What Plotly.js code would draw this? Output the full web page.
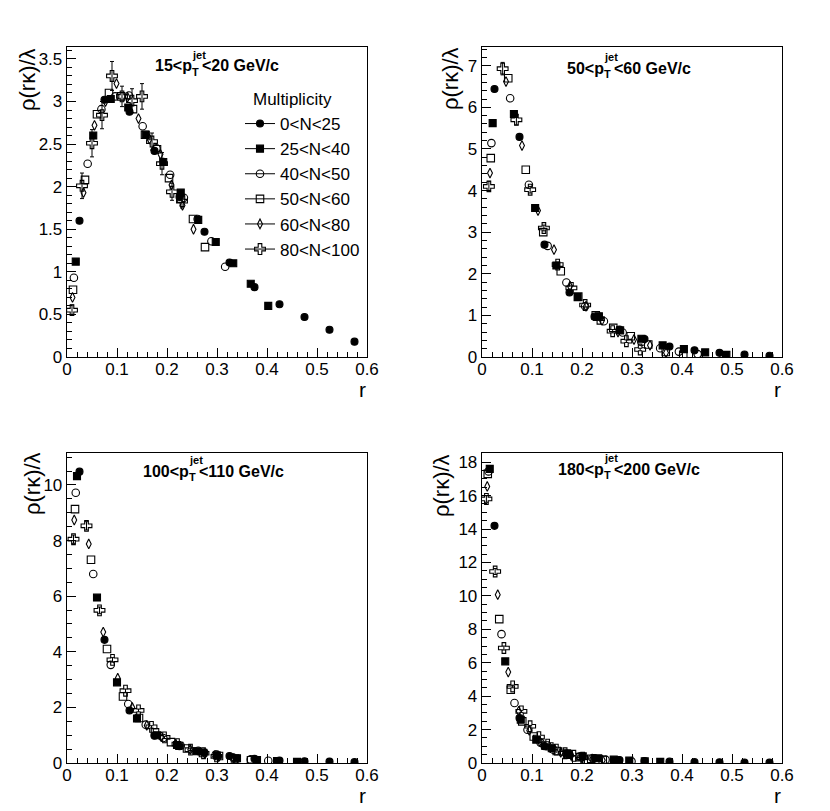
<!DOCTYPE html>
<html>
<head>
<meta charset="utf-8">
<script src="https://cdn.plot.ly/plotly-3.0.1.min.js"></script>
<style>
html,body{margin:0;padding:0;background:#fff;}
#chart{width:830px;height:811px;}
</style>
</head>
<body>
<div id="chart"></div>
<script>
// ---------- DATA ----------
const seriesNames = ['0&lt;N&lt;25','25&lt;N&lt;40','40&lt;N&lt;50','50&lt;N&lt;60','60&lt;N&lt;80','80&lt;N&lt;100'];
const panelLabels = ['15', '20', '50', '60', '100', '110', '180', '200'];

// Panel 1: 15<pT<20
const p1_r0 = [0.025,0.075,0.125,0.175,0.225,0.275,0.325,0.375,0.425,0.475,0.525,0.575];
const p1_y0 = [1.60,3.02,2.88,2.42,1.88,1.47,1.11,0.82,0.62,0.47,0.32,0.18];
const p1_r1 = [0.0175,0.0525,0.0875,0.1225,0.1575,0.1925,0.2275,0.2625,0.2975,0.3325,0.3675,0.4025];
const p1_y1 = [1.12,2.60,3.03,2.93,2.61,2.29,1.93,1.61,1.35,1.10,0.86,0.60];
const p1_r2 = [0.0138,0.0413,0.0688,0.0963,0.1238,0.1513,0.1788,0.2063,0.2338,0.2613,0.2888,0.3163];
const p1_y2 = [0.93,2.27,2.91,3.06,3.07,2.71,2.45,2.14,1.87,1.62,1.36,1.06];
const p1_r3 = [0.012,0.036,0.060,0.084,0.108,0.132,0.156,0.180,0.204,0.228,0.252,0.276];
const p1_y3 = [0.79,2.08,2.85,3.10,3.06,2.91,2.61,2.44,2.10,1.86,1.62,1.29];
const p1_r4 = [0.011,0.033,0.055,0.077,0.099,0.121,0.143,0.165,0.187,0.209,0.231,0.253];
const p1_y4 = [0.70,1.93,2.72,3.00,3.21,3.05,2.80,2.56,2.38,2.02,1.78,1.50];
const p1_r5 = [0.01,0.03,0.05,0.07,0.09,0.11,0.13,0.15,0.17,0.19,0.21,0.23];
const p1_y5 = [0.55,2.01,2.51,2.84,3.30,3.06,3.01,3.06,2.53,2.27,1.94,1.83];
const p1_e5 = [0.06,0.15,0.16,0.16,0.17,0.12,0.14,0.15,0.10,0.13,0.10,0.08];

// Panel 2: 50<pT<60
const p2_r0 = [0.025,0.075,0.125,0.175,0.225,0.275,0.325,0.375,0.425,0.475,0.525,0.575];
const p2_y0 = [6.44,5.29,2.70,1.55,0.97,0.66,0.43,0.25,0.16,0.10,0.06,0.03];
const p2_r1 = [0.0213,0.0638,0.1063,0.1488,0.1913,0.2338,0.2763,0.3188,0.3613,0.4038,0.4463,0.4888];
const p2_y1 = [5.62,5.84,3.58,2.20,1.44,0.98,0.64,0.44,0.28,0.19,0.11,0.05];
const p2_r2 = [0.0188,0.0563,0.0938,0.1313,0.1688,0.2063,0.2438,0.2813,0.3188,0.3563,0.3938,0.4313];
const p2_y2 = [5.14,6.22,4.14,2.67,1.79,1.22,0.86,0.59,0.36,0.21,0.13,0.07];
const p2_r3 = [0.0175,0.0525,0.0875,0.1225,0.1575,0.1925,0.2275,0.2625,0.2975,0.3325,0.3675,0.4025];
const p2_y3 = [4.78,6.70,4.50,3.00,2.06,1.45,1.00,0.70,0.50,0.30,0.12,0.05];
const p2_r4 = [0.016,0.048,0.080,0.112,0.144,0.176,0.208,0.240,0.272,0.304,0.336,0.368];
const p2_y4 = [4.42,6.62,5.08,3.52,2.58,1.70,1.22,0.88,0.60,0.42,0.28,0.10];
const p2_r5 = [0.0138,0.0413,0.0688,0.0963,0.1238,0.1513,0.1788,0.2063,0.2338,0.2613,0.2888,0.3163];
const p2_y5 = [4.10,6.93,5.70,4.02,3.10,2.22,1.66,1.25,0.92,0.62,0.38,0.18];
const p2_e5 = [0.12,0.15,0.12,0.08,0.07,0.06,0.05,0.05,0.04,0.04,0.03,0.03];

// Panel 3: 100<pT<110
const p3_r0 = [0.025,0.075,0.125,0.175,0.225,0.275,0.325,0.375,0.425,0.475,0.525,0.575];
const p3_y0 = [10.48,4.43,1.89,0.98,0.60,0.38,0.25,0.15,0.09,0.06,0.05,0.03];
const p3_r1 = [0.02,0.06,0.10,0.14,0.18,0.22,0.26,0.30,0.34,0.38,0.42,0.46];
const p3_y1 = [10.32,5.95,2.90,1.60,1.00,0.65,0.42,0.27,0.17,0.11,0.07,0.04];
const p3_r2 = [0.0175,0.0525,0.0875,0.1225,0.1575,0.1925,0.2275,0.2625,0.2975,0.3325,0.3675,0.4025];
const p3_y2 = [9.72,6.80,3.53,2.12,1.38,0.90,0.62,0.44,0.30,0.20,0.13,0.08];
const p3_r3 = [0.016,0.048,0.080,0.112,0.144,0.176,0.208,0.240,0.272,0.304,0.336,0.368];
const p3_y3 = [9.13,7.31,4.10,2.39,1.62,1.10,0.75,0.52,0.36,0.25,0.16,0.10];
const p3_r4 = [0.0145,0.0435,0.0725,0.1015,0.1305,0.1595,0.1885,0.2175,0.2465,0.2755,0.3045,0.3335];
const p3_y4 = [8.74,7.88,4.71,3.05,2.00,1.35,0.95,0.68,0.48,0.34,0.24,0.16];
const p3_r5 = [0.013,0.039,0.065,0.091,0.117,0.143,0.169,0.195,0.221,0.247,0.273,0.299];
const p3_y5 = [8.05,8.53,5.49,3.71,2.60,1.89,1.30,0.92,0.68,0.48,0.35,0.24];
const p3_e5 = [0.15,0.15,0.12,0.08,0.06,0.05,0.04,0.04,0.03,0.03,0.02,0.02];

// Panel 4: 180<pT<200
const p4_r0 = [0.025,0.075,0.125,0.175,0.225,0.275,0.325,0.375,0.425,0.475,0.525,0.575];
const p4_y0 = [14.19,2.69,1.00,0.50,0.30,0.18,0.12,0.08,0.05,0.04,0.03,0.02];
const p4_r1 = [0.0155,0.0465,0.0775,0.1085,0.1395,0.1705,0.2015,0.2325,0.2635,0.2945,0.3255,0.3565];
const p4_y1 = [17.60,6.08,2.59,1.40,0.88,0.58,0.40,0.28,0.20,0.14,0.10,0.07];
const p4_r2 = [0.013,0.039,0.065,0.091,0.117,0.143,0.169,0.195,0.221,0.247,0.273,0.299];
const p4_y2 = [17.45,7.71,3.59,1.99,1.22,0.80,0.55,0.39,0.28,0.20,0.15,0.10];
const p4_r3 = [0.0115,0.0345,0.0575,0.0805,0.1035,0.1265,0.1495,0.1725,0.1955,0.2185,0.2415,0.2645];
const p4_y3 = [17.30,8.61,4.38,2.49,1.59,1.05,0.72,0.50,0.35,0.25,0.18,0.12];
const p4_r4 = [0.0105,0.0315,0.0525,0.0735,0.0945,0.1155,0.1365,0.1575,0.1785,0.1995,0.2205,0.2415];
const p4_y4 = [16.55,10.07,5.44,3.10,1.95,1.30,0.90,0.63,0.45,0.33,0.24,0.17];
const p4_r5 = [0.0088,0.0263,0.0438,0.0613,0.0788,0.0963,0.1138,0.1313,0.1488,0.1663,0.1838,0.2013];
const p4_y5 = [15.80,11.46,6.88,4.58,3.09,2.20,1.55,1.10,0.80,0.58,0.43,0.32];
const p4_e5 = [0.20,0.18,0.12,0.08,0.06,0.05,0.04,0.04,0.03,0.03,0.02,0.02];

// ---------- STYLE ----------
const W = 830, H = 811;
const FONT = 'Liberation Sans, Arial, Helvetica, sans-serif';
const symbols = ['circle','square','circle-open','square-open','diamond-tall-open','cross-open'];
const sizes = [7,7,7.5,7.5,7,9];
const px = v => v / W;
const py = v => 1 - v / H;

const panels = [
  {r:[p1_r0,p1_r1,p1_r2,p1_r3,p1_r4,p1_r5], y:[p1_y0,p1_y1,p1_y2,p1_y3,p1_y4,p1_y5], e:p1_e5, xa:'x', ya:'y'},
  {r:[p2_r0,p2_r1,p2_r2,p2_r3,p2_r4,p2_r5], y:[p2_y0,p2_y1,p2_y2,p2_y3,p2_y4,p2_y5], e:p2_e5, xa:'x2', ya:'y2'},
  {r:[p3_r0,p3_r1,p3_r2,p3_r3,p3_r4,p3_r5], y:[p3_y0,p3_y1,p3_y2,p3_y3,p3_y4,p3_y5], e:p3_e5, xa:'x3', ya:'y3'},
  {r:[p4_r0,p4_r1,p4_r2,p4_r3,p4_r4,p4_r5], y:[p4_y0,p4_y1,p4_y2,p4_y3,p4_y4,p4_y5], e:p4_e5, xa:'x4', ya:'y4'}
];

const traces = [];
panels.forEach(p => {
  for (let s = 0; s < 6; s++) {
    const t = {
      type:'scatter', mode:'markers', x:p.r[s], y:p.y[s], xaxis:p.xa, yaxis:p.ya,
      showlegend:false, hoverinfo:'skip',
      marker:{symbol:symbols[s], size:sizes[s], color:'#000', line:{color:'#000', width:1.1}}
    };
    if (s === 5) t.error_y = {type:'data', array:p.e, visible:true, color:'#000', thickness:1, width:2};
    traces.push(t);
  }
});
// legend entries
for (let s = 0; s < 6; s++) {
  traces.push({
    type:'scatter', mode:'lines+markers', x:[null], y:[null], xaxis:'x', yaxis:'y',
    name:seriesNames[s], legendgroup:'g'+s, showlegend:true, hoverinfo:'skip',
    line:{color:'#000', width:1},
    marker:{symbol:symbols[s], size:sizes[s], color:'#000', line:{color:'#000', width:1.1}}
  });
}

const tickFont = {family:FONT, size:17, color:'#000'};
function xax(dom, anchor) {
  return {domain:dom, anchor:anchor, range:[0,0.6], dtick:0.1, tick0:0,
    ticks:'inside', ticklen:9, tickwidth:1, tickcolor:'#000', ticklabelstandoff:-4,
    minor:{ticks:'inside', ticklen:5, dtick:0.02, tickwidth:1, tickcolor:'#000'},
    showline:true, mirror:true, linecolor:'#000', linewidth:1.3,
    showgrid:false, zeroline:false, tickfont:tickFont, fixedrange:true};
}
function yax(dom, anchor, max, dt, mdt) {
  return {domain:dom, anchor:anchor, range:[0,max], dtick:dt, tick0:0,
    ticks:'inside', ticklen:9, tickwidth:1, tickcolor:'#000',
    minor:{ticks:'inside', ticklen:5, dtick:mdt, tickwidth:1, tickcolor:'#000'},
    showline:true, mirror:true, linecolor:'#000', linewidth:1.3,
    showgrid:false, zeroline:false, tickfont:tickFont, fixedrange:true};
}
const xL = [px(67), px(367)], xR = [px(482), px(782)];
const yT = [py(357), py(47)], yB = [py(763), py(453)];

const ann = [];
function A(text, x, y, opts) {
  ann.push(Object.assign({text:text, xref:'paper', yref:'paper', x:px(x), y:py(y),
    showarrow:false, xanchor:'center', yanchor:'middle', borderpad:0,
    font:{family:FONT, size:17, color:'#000'}}, opts || {}));
}
// y titles
[[28,80],[450,79],[32,484],[441,486]].forEach(c => A('ρ(rκ)/λ', c[0], c[1], {textangle:-90, font:{family:FONT, size:22, color:'#000'}}));
// x titles
[[367,389],[782,389],[367,795],[782,795]].forEach(c => A('r', c[0], c[1], {xanchor:'right', font:{family:FONT, size:21, color:'#000'}}));
// panel labels
const labPos = [[192,66,0],[604,68,2],[189,471,4],[604,469,6]];
labPos.forEach(l => {
  const lo = panelLabels[l[2]], hi = panelLabels[l[2]+1];
  const bf = {family:FONT, size:16, color:'#000', weight:'bold'};
  const sf = {family:FONT, size:11, color:'#000', weight:'bold'};
  A('<b>' + lo + '&lt;p</b>', l[0] + 1, l[1], {xanchor:'right', font:bf});
  A('<b>jet</b>', l[0] - 1, l[1] - 11, {xanchor:'left', font:sf});
  A('<b>T</b>', l[0] - 1, l[1] + 6, {xanchor:'left', font:sf});
  A('<b>&lt;' + hi + ' GeV/c</b>', l[0] + 9, l[1], {xanchor:'left', font:bf});
});
A('Multiplicity', 252, 100, {xanchor:'left'});

const layout = {
  width:W, height:H, margin:{l:0, r:0, t:0, b:0},
  paper_bgcolor:'#fff', plot_bgcolor:'rgba(0,0,0,0)',
  showlegend:true,
  legend:{x:px(240), xanchor:'left', y:py(106), yanchor:'top', bgcolor:'rgba(0,0,0,0)',
    font:{family:FONT, size:17, color:'#000'}, itemwidth:30, tracegroupgap:2.6, traceorder:'normal'},
  xaxis:xax(xL,'y'), yaxis:yax(yT,'x',3.64,0.5,0.1),
  xaxis2:xax(xR,'y2'), yaxis2:yax(yT,'x2',7.45,1,0.2),
  xaxis3:xax(xL,'y3'), yaxis3:yax(yB,'x3',11.15,2,0.5),
  xaxis4:xax(xR,'y4'), yaxis4:yax(yB,'x4',18.55,2,0.5),
  annotations:ann
};
Plotly.newPlot('chart', traces, layout, {staticPlot:true, displayModeBar:false});
</script>
</body>
</html>
